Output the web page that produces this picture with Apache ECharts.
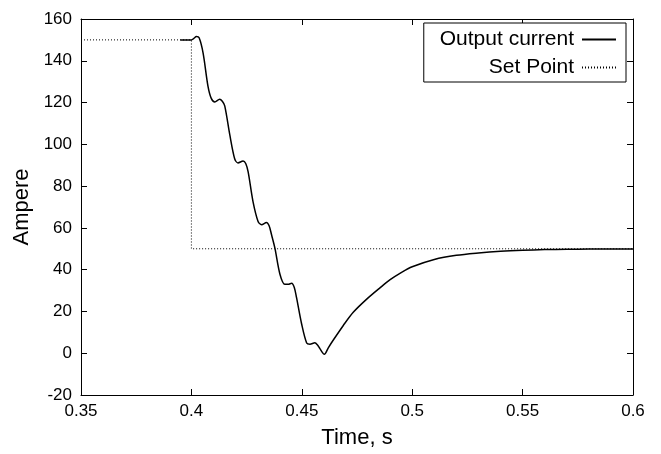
<!DOCTYPE html>
<html>
<head>
<meta charset="utf-8">
<script src="https://cdn.jsdelivr.net/npm/echarts@6/dist/echarts.min.js"></script>
<style>
  html, body { margin: 0; padding: 0; background: #fff; }
  #chart { width: 661px; height: 454px; }
</style>
</head>
<body>
<div id="chart"></div>
<script>
// time axis (s) and measured output current (A)
const timeOutput = [
  0.395, 0.400, 0.4010, 0.4023, 0.4035, 0.4053, 0.4075, 0.4090, 0.4106, 0.4128,
  0.4140, 0.4151, 0.4174, 0.4196, 0.4211, 0.4234, 0.4246, 0.4257, 0.4279, 0.4302,
  0.4318, 0.4340, 0.4352, 0.4363, 0.4378, 0.4401, 0.4423, 0.4438, 0.4454, 0.4466,
  0.4476, 0.4499, 0.4522, 0.4537, 0.4559, 0.4572, 0.4582, 0.4602, 0.4620, 0.4642,
  0.4688, 0.4733, 0.4794, 0.4854, 0.490, 0.495, 0.500, 0.510, 0.520, 0.530,
  0.540, 0.550, 0.560, 0.570, 0.580, 0.590, 0.600
]
const currentOutput = [
  150.0, 150.0, 150.6, 151.6, 151.0, 143.7, 127.9, 122.0, 120.3, 121.6,
  120.6, 118.4, 104.5, 93.1, 91.1, 92.0, 90.8, 86.8, 72.6, 63.1,
  61.5, 62.6, 61.0, 56.7, 50.4, 37.8, 33.0, 33.0, 33.5, 31.5,
  26.7, 14.1, 4.9, 4.3, 5.0, 3.8, 2.2, -0.5, 2.6, 6.2,
  13.3, 19.6, 25.9, 31.3, 35.2, 38.6, 41.4, 44.9, 46.9, 48.0,
  48.8, 49.3, 49.6, 49.75, 49.85, 49.9, 49.95
]

// set point step
const timeSet = [0.35, 0.4, 0.4, 0.6]
const setPoint = [150, 150, 50, 50]

const xTicks = ['0.35', '0.4', '0.45', '0.5', '0.55', '0.6']
const yTicks = ['-20', '0', '20', '40', '60', '80', '100', '120', '140', '160']

const zip = (xs, ys) => xs.map((x, i) => [x, ys[i]])

const font = 'Liberation Sans, Arial, Helvetica, sans-serif'

const chart = echarts.init(document.getElementById('chart'))

const axisCommon = {
  type: 'value',
  axisLine: { show: true, onZero: false, lineStyle: { color: '#000', width: 1 } },
  axisTick: { show: true, inside: true, length: 6, lineStyle: { color: '#000' } },
  splitLine: { show: false },
}

const option = {
  animation: false,
  backgroundColor: '#fff',
  textStyle: { fontFamily: font },
  grid: { left: 81, right: 28, top: 19, bottom: 56 },
  legend: {
    orient: 'vertical',
    align: 'right',
    right: 35,
    top: 23,
    itemWidth: 34,
    itemHeight: 14,
    itemGap: 7,
    padding: [6, 9, 4, 16],
    borderColor: '#000',
    borderWidth: 1,
    backgroundColor: '#fff',
    itemStyle: { opacity: 0 },
    textStyle: { fontFamily: font, fontSize: 21, color: '#000', padding: [0, 3, 0, 0] },
    data: ['Output current', 'Set Point'],
  },
  xAxis: [
    {
      ...axisCommon,
      min: 0.35,
      max: 0.6,
      interval: 0.05,
      name: 'Time, s',
      nameLocation: 'middle',
      nameGap: 32,
      nameTextStyle: { fontFamily: font, fontSize: 22, color: '#000' },
      axisLabel: {
        color: '#000',
        fontFamily: font,
        fontSize: 17,
        margin: 8,
        formatter: (v) => xTicks.find((t) => Math.abs(parseFloat(t) - v) < 1e-6) || '',
      },
    },
    {
      ...axisCommon,
      position: 'top',
      min: 0.35,
      max: 0.6,
      interval: 0.05,
      axisLabel: { show: false },
    },
  ],
  yAxis: [
    {
      ...axisCommon,
      min: -20,
      max: 160,
      interval: 20,
      name: 'Ampere',
      nameLocation: 'middle',
      nameGap: 44,
      nameTextStyle: { fontFamily: font, fontSize: 22, color: '#000' },
      axisLabel: {
        color: '#000',
        fontFamily: font,
        fontSize: 17,
        margin: 9,
        formatter: (v) => yTicks.find((t) => parseFloat(t) === v) || '',
      },
    },
    {
      ...axisCommon,
      position: 'right',
      min: -20,
      max: 160,
      interval: 20,
      axisLabel: { show: false },
    },
  ],
  series: [
    {
      name: 'Set Point',
      type: 'line',
      symbol: 'none',
      xAxisIndex: 0,
      yAxisIndex: 0,
      lineStyle: { color: '#000', width: 1, type: [1, 2] },
      itemStyle: { color: '#000', opacity: 0 },
      data: zip(timeSet, setPoint),
    },
    {
      name: 'Output current',
      type: 'line',
      symbol: 'none',
      smooth: 0.3,
      xAxisIndex: 0,
      yAxisIndex: 0,
      lineStyle: { color: '#000', width: 1.5 },
      itemStyle: { color: '#000', opacity: 0 },
      data: zip(timeOutput, currentOutput),
    },
  ],
}

chart.setOption(option)
</script>
</body>
</html>
